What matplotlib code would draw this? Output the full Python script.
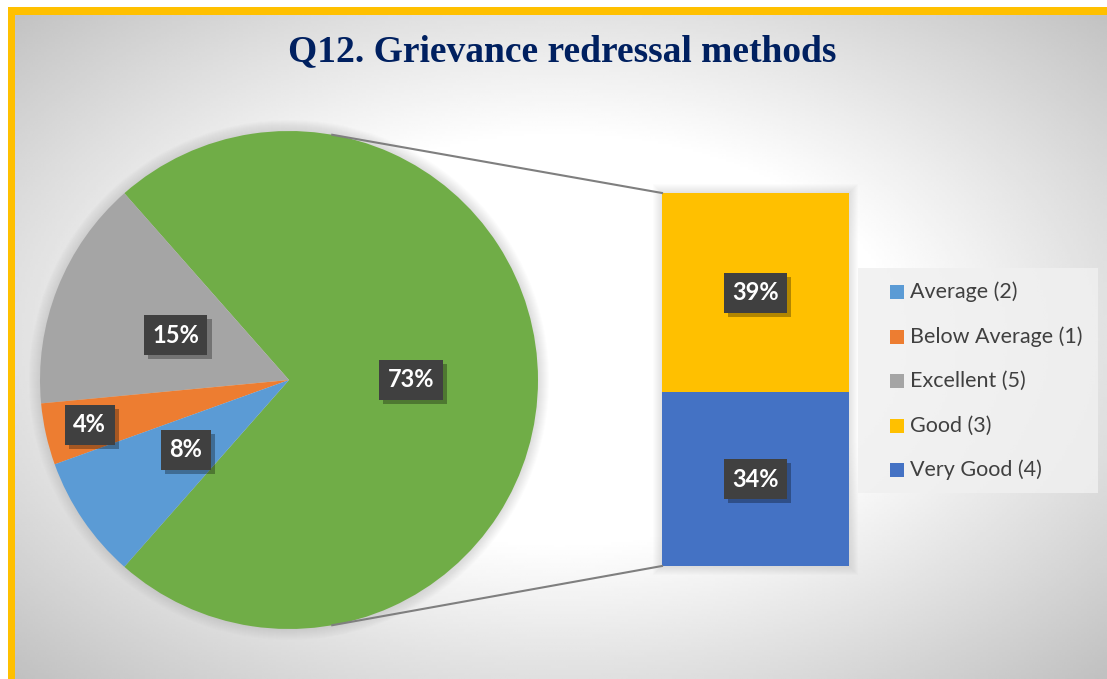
import numpy as np
import matplotlib
matplotlib.use("Agg")
import matplotlib.pyplot as plt
import matplotlib.patheffects as pe
from matplotlib.patches import Rectangle, Circle

# data
categories = ['Average (2)', 'Below Average (1)', 'Excellent (5)', 'Good (3)', 'Very Good (4)']
shares = [8, 4, 15, 39, 34]
colors = ['#5B9BD5', '#ED7D31', '#A5A5A5', '#FFC000', '#4472C4']
bar_items = [3, 4]          # indices split off into the bar
label_radius = [0.5, 0.82, 0.49]   # Average, Below Average, Excellent
title = 'Q12. Grievance redressal methods'

W, H = 1107, 679
plt.rcParams['font.family'] = ['Lato', 'DejaVu Sans']

fig = plt.figure(figsize=(W / 100, H / 100), dpi=100)
ax = fig.add_axes([0, 0, 1, 1])


def Y(y):
    return H - y


# background: white margin, gold border, radial grey gradient
ax.add_patch(Rectangle((0, 0), W, H, facecolor='white', edgecolor='none', zorder=0))
ax.add_patch(Rectangle((8, -20), W + 20, Y(7) + 20, facecolor='#FFC000', edgecolor='none', zorder=0))
xs = np.linspace(15, W, 400)
ys = np.linspace(15, H, 260)
gx, gy = np.meshgrid(xs, ys)
d = np.sqrt(((gx - 560) / 560) ** 2 + ((gy - 340) / 340) ** 2)
shade = 1 - 0.25 * np.clip((d - 0.6) / 0.81, 0, 1.1)
ax.imshow(shade, cmap='gray', vmin=0, vmax=1, extent=(15, W, Y(H), Y(15)),
          origin='upper', aspect='auto', interpolation='bilinear', zorder=0.5)

# pie: the split-off group first, then the rest
other = sum(shares[i] for i in bar_items)
pie_idx = [2, 1, 0]
pie_vals = [other] + [shares[i] for i in pie_idx]
pie_cols = ['#70AD47'] + [colors[i] for i in pie_idx]
cx, cy, r = 289, Y(380), 249

for k in range(1, 12):
    ax.add_patch(Circle((cx, cy), r + k, facecolor='#606060', edgecolor='none',
                        alpha=0.014, zorder=1))

wedges, _ = ax.pie(pie_vals, colors=pie_cols, startangle=-other / 100 * 180,
                   counterclock=True, center=(cx, cy), radius=r,
                   wedgeprops=dict(linewidth=0, zorder=2))
ax.set_xlim(0, W)
ax.set_ylim(0, H)
ax.set_aspect('equal')
ax.axis('off')


def tag(x, y, txt):
    t = ax.text(x, y, txt, ha='center', va='center', fontsize=17, fontweight='bold',
                color='white', zorder=5,
                bbox=dict(boxstyle='square,pad=0.36', facecolor='#404040', edgecolor='none'))
    t.get_bbox_patch().set_path_effects([
        pe.SimplePatchShadow(offset=(3, -3), shadow_rgbFace='black', alpha=0.3),
        pe.Normal()])


rads = [0.49] + label_radius[::-1]
for w, v, lr in zip(wedges, pie_vals, rads):
    mid = np.deg2rad((w.theta1 + w.theta2) / 2)
    tag(cx + lr * r * np.cos(mid), cy + lr * r * np.sin(mid), f'{v}%')

# bar of the split-off group
bx, bw = 755.5, 187
base = Y(566)
scale = (566 - 193) / other
for k in range(1, 10):
    ax.add_patch(Rectangle((bx - bw / 2 - k, base - k), bw + 2 * k, other * scale + 2 * k,
                           facecolor='#606060', edgecolor='none', alpha=0.014, zorder=1))
bottom = base
for i in bar_items[::-1]:
    ax.bar(bx, shares[i] * scale, width=bw, bottom=bottom, color=colors[i], linewidth=0, zorder=2)
    tag(bx, bottom + shares[i] * scale / 2, f'{shares[i]}%')
    bottom += shares[i] * scale

# connector lines
a = np.deg2rad(80)
top_y = base + other * scale
ax.plot([cx + r * np.cos(a), bx - bw / 2], [cy + r * np.sin(a), top_y], color='#7F7F7F', lw=1.5, zorder=3)
ax.plot([cx + r * np.cos(a), bx - bw / 2], [cy - r * np.sin(a), base], color='#7F7F7F', lw=1.5, zorder=3)

# legend
ax.add_patch(Rectangle((858, Y(493)), 240, 225, facecolor='#F0F0F0', edgecolor='none',
                       alpha=0.85, zorder=2))
for n, (lab, col) in enumerate(zip(categories, colors)):
    ly = Y(292 + n * 44.5)
    ax.add_patch(Rectangle((890, ly - 7), 14, 14, facecolor=col, edgecolor='none', zorder=3))
    ax.text(910, ly, lab, ha='left', va='center', fontsize=15.5, color='#404040', zorder=3)

ax.text(562, Y(52), title, ha='center', va='center', fontsize=27, fontweight='bold',
        color='#002060', family=['Liberation Serif', 'DejaVu Serif'], zorder=3)

fig.savefig('out.png', dpi=100)
